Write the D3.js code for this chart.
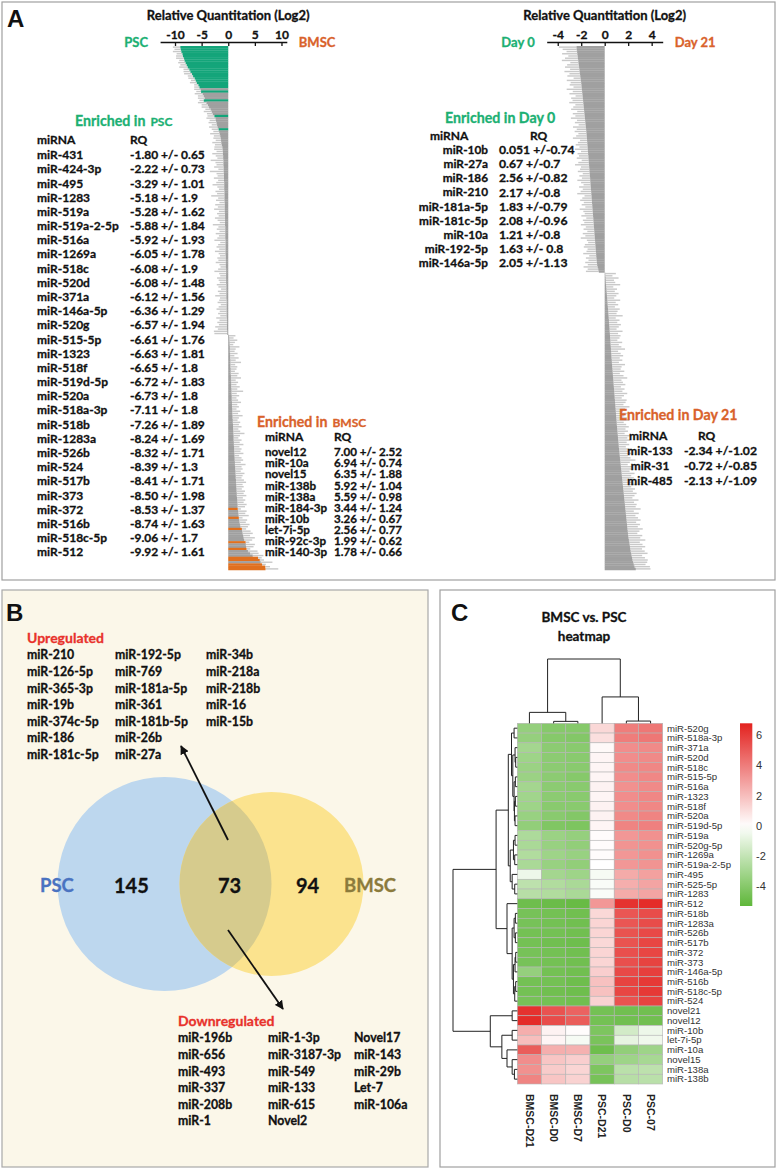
<!DOCTYPE html>
<html><head><meta charset="utf-8">
<script src="https://cdn.jsdelivr.net/npm/d3@7"></script>
<style>
body{margin:0;background:#fff;}
svg text{font-family:Lato,"Open Sans",sans-serif;}
</style></head><body>
<svg id="fig" width="777" height="1170" xmlns="http://www.w3.org/2000/svg"></svg>
<script>
// ================= DATA =================
// Panel A, left chart (PSC vs BMSC), sorted log2 RQ, bars top->bottom
const leftNegVals = [-9.0,-8.9,-8.8,-8.6,-8.5,-8.3,-8.2,-8.0,-7.8,-7.6,-7.3,-7.1,-6.8,-6.6,-6.3,-6.1,-5.9,-5.6,-5.4,
-5.2,-5.1,-4.8,-4.6,-4.4,-4.6,-4.1,-3.8,-3.6,-3.3,-3.1,-2.9,-2.6,-2.4,-2.3,-2.2,-2.1,-2.0,-1.8,-1.7,-1.6,-1.5,-1.4,-1.35,-1.3,-1.2,-1.1,
-1.05,-1.0,-1.0,-0.95,-0.95,-0.9,-0.9,-0.9,-0.85,-0.85,
-0.85,-0.8,-0.8,-0.8,-0.8,-0.75,-0.75,-0.75,-0.75,-0.7,
-0.7,-0.7,-0.7,-0.7,-0.65,-0.65,-0.65,-0.65,-0.65,-0.6,
-0.6,-0.6,-0.6,-0.6,-0.6,-0.55,-0.55,-0.55,-0.55,-0.55,
-0.55,-0.5,-0.5,-0.5,-0.5,-0.5,-0.5,-0.5,-0.45,-0.45,
-0.45,-0.45,-0.45,-0.45,-0.4,-0.4,-0.4,-0.4,-0.4,-0.4,
-0.4,-0.35,-0.35,-0.35,-0.35,-0.35,-0.35,-0.35,-0.3,-0.3,
-0.3,-0.3,-0.3,-0.3,-0.3,-0.3,-0.25,-0.25,-0.25,-0.25,
-0.25,-0.25,-0.2,-0.2];
const leftNegErr = [1.4,1.2,1.6,1.1,1.3,1.5,1.0,1.4,1.2,1.6,1.1,1.3,1.5,1.0,1.2,0.9,1.3,0.8,1.0,
1.2,0.9,1.5,1.1,1.3,0.8,1.6,1.2,1.4,1.0,1.5,1.1,1.3,1.7,1.2,1.5,1.0,1.6,1.3,1.1,1.8,1.2,1.4,1.0,1.7,1.3,1.5,
1.6,1.2,2.0,1.4,1.1,2.4,1.5,1.3,1.8,1.0,
2.6,1.4,1.2,1.9,1.1,1.5,2.2,1.3,1.0,1.7,
1.4,2.5,1.2,1.6,1.0,1.8,1.3,2.0,1.1,1.5,
1.2,1.9,1.4,1.0,2.3,1.3,1.6,1.1,1.8,1.2,
1.5,2.1,1.0,1.4,1.7,1.2,2.0,1.3,1.1,1.6,
1.4,1.9,1.2,1.0,1.5,2.2,1.3,1.1,1.7,1.4,
1.2,1.8,1.5,1.0,1.6,1.3,2.1,1.2,1.4,1.7,
1.1,1.5,1.9,1.3,1.6,1.2,2.0,1.4,1.8,1.5,
2.2,1.7,2.5,2.4];
const leftPosVals = [0.15,0.2,0.2,0.25,0.25,0.3,0.3,0.3,0.35,0.35,0.35,0.4,0.4,0.4,0.4,0.45,0.45,0.45,0.5,0.5,
0.5,0.55,0.55,0.55,0.6,0.6,0.6,0.65,0.65,0.65,0.7,0.7,0.7,0.75,0.75,0.75,0.8,0.8,0.85,0.85,
0.9,0.9,0.9,0.95,0.95,1.0,1.0,1.0,1.05,1.05,1.1,1.1,1.1,1.15,1.15,1.2,1.2,1.25,1.25,1.3,
1.3,1.35,1.35,1.4,1.4,1.45,1.45,1.5,1.5,1.55,1.55,1.6,1.6,1.65,1.7,1.7,1.75,1.75,1.78,1.85,
1.9,1.95,1.99,2.05,2.1,2.2,2.3,2.56,2.6,2.7,2.8,2.9,3.0,3.26,3.3,3.35,3.44,3.7,4.1,4.6,5.59,5.92,6.1,6.35,6.94,7.0];
const leftPosErr = [1.2,0.8,1.5,1.0,0.7,1.8,1.1,0.9,1.4,0.8,
1.6,1.0,2.0,0.9,1.3,1.1,0.8,1.5,1.2,1.9,
0.9,1.3,1.0,1.6,1.1,2.2,1.0,1.4,0.9,1.2,
1.7,1.0,1.3,0.8,1.5,1.1,1.9,1.2,0.9,1.4,
1.1,1.6,1.0,1.3,2.1,1.2,0.9,1.5,1.1,1.8,
1.0,1.4,1.2,1.7,0.9,1.3,1.6,1.1,2.0,1.2,
1.4,1.0,1.7,1.3,1.1,1.5,1.9,1.2,1.4,1.0,
1.6,1.3,1.8,1.1,1.5,1.2,1.7,1.4,0.6,1.6,
1.3,1.9,0.7,1.5,1.2,1.8,1.4,0.8,1.6,1.9,
1.3,2.1,1.5,0.7,1.7,1.4,0.7,1.8,1.6,2.0,
0.7,0.8,2.2,0.7,0.9,2.4];
const leftHiNeg = [0,1,2,3,4,5,6,7,8,9,10,11,12,13,14,15,16,17,18,20,24,31,37];
const leftHiPos = [78,82,87,93,96,100,101,103,104,105];
const leftTicks = [-10,-5,0,5,10];

// Panel A, right chart (Day 0 vs Day 21)
const rightNegVals = [-2.40,-2.38,-2.35,-2.33,-2.30,-2.28,-2.25,-2.23,-2.20,-2.18,
-2.15,-2.13,-2.10,-2.08,-2.05,-2.03,-2.00,-1.98,-1.96,-1.94,
-1.92,-1.90,-1.88,-1.86,-1.84,-1.82,-1.80,-1.78,-1.76,-1.74,
-1.72,-1.70,-1.68,-1.66,-1.64,-1.62,-1.60,-1.58,-1.56,-1.54,
-1.53,-1.51,-1.50,-1.48,-1.47,-1.45,-1.44,-1.42,-1.41,-1.39,
-1.38,-1.36,-1.35,-1.33,-1.32,-1.30,-1.29,-1.27,-1.26,-1.24,
-1.23,-1.21,-1.20,-1.18,-1.17,-1.15,-1.14,-1.12,-1.11,-1.09,
-1.08,-1.06,-1.05,-1.03,-1.02,-1.00,-0.99,-0.97,-0.96,-0.94,
-0.93,-0.91,-0.90,-0.88,-0.87,-0.85,-0.84,-0.82,-0.81,-0.79,
-0.78,-0.76,-0.75,-0.73,-0.72,-0.70,-0.68,-0.66,-0.64,-0.60,
-0.55,-0.50];
const rightNegErr = [1.5,1.2,0.9,1.3,0.8,1.1,1.4,0.7,1.0,1.2,
0.8,1.3,0.9,1.1,0.6,1.2,0.9,1.0,0.7,1.3,
0.8,1.1,0.6,1.0,0.9,1.2,0.7,0.9,1.1,0.6,
1.0,0.8,1.2,0.7,0.9,0.6,1.1,0.8,1.0,0.7,
0.9,1.2,0.6,0.8,1.0,0.7,1.1,0.6,0.9,0.8,
1.0,0.6,0.9,1.2,0.7,0.8,1.0,0.6,0.9,0.7,
1.1,0.8,0.6,1.0,0.7,0.9,1.2,0.6,0.8,1.0,
0.7,0.9,0.6,1.1,0.8,0.7,1.0,0.6,0.9,0.8,
1.1,0.7,0.9,0.6,1.0,0.8,1.2,0.7,0.6,0.9,
1.0,0.7,0.8,1.1,0.6,0.9,0.7,1.0,0.8,1.2,
0.9,1.1];
const rightPosVals = [0.05,0.06,0.08,0.09,0.10,0.12,0.13,0.15,0.16,0.18,
0.19,0.21,0.22,0.24,0.25,0.27,0.28,0.30,0.31,0.33,
0.34,0.36,0.37,0.38,0.40,0.41,0.42,0.44,0.45,0.46,
0.48,0.49,0.50,0.52,0.53,0.54,0.56,0.57,0.58,0.60,
0.61,0.63,0.64,0.66,0.67,0.69,0.70,0.72,0.73,0.75,
0.76,0.78,0.79,0.81,0.82,0.84,0.85,0.87,0.88,0.90,
0.91,0.93,0.94,0.96,0.97,0.99,1.00,1.02,1.03,1.05,
1.07,1.08,1.10,1.12,1.13,1.15,1.17,1.19,1.20,1.22,
1.24,1.26,1.28,1.30,1.32,1.34,1.36,1.38,1.40,1.42,
1.44,1.46,1.48,1.50,1.52,1.54,1.56,1.58,1.60,1.62,
1.64,1.66,1.68,1.70,1.72,1.74,1.76,1.78,1.80,1.82,
1.84,1.86,1.88,1.90,1.92,1.94,1.96,1.98,2.00,2.03,
2.06,2.09,2.12,2.15,2.18,2.21,2.25,2.29,2.33,2.37,
2.42,2.48,2.55,2.65];
const rightPosErr = [0.9,0.6,1.1,0.7,0.8,1.2,0.6,0.9,0.7,1.0,
0.8,0.6,1.1,0.7,0.9,0.6,1.0,0.8,0.7,1.2,
0.6,0.9,0.7,1.0,0.8,0.6,1.1,0.7,0.9,0.8,
0.6,1.0,0.7,0.9,1.2,0.6,0.8,1.0,0.7,0.9,
0.6,1.1,0.8,0.7,1.0,0.6,0.9,1.2,0.7,0.8,
1.0,0.6,0.9,0.7,1.1,0.8,0.6,1.0,0.9,0.7,
1.2,0.8,0.6,1.0,0.7,0.9,1.1,0.6,0.8,1.0,
0.7,0.9,0.6,1.2,0.8,1.0,0.7,0.9,0.6,1.1,
0.8,1.0,0.7,0.9,1.3,0.8,0.6,1.0,0.9,0.7,
1.1,0.8,1.0,0.6,0.9,1.2,0.7,1.0,0.8,1.1,
0.9,0.7,1.2,0.8,1.0,0.9,1.3,0.7,1.1,0.8,
1.0,1.2,0.8,1.1,0.9,1.3,1.0,0.8,1.2,1.0,
1.4,0.9,1.1,1.3,1.0,1.2,1.4,0.9,1.1,1.3,
1.2,1.0,1.3,1.25];
const rightTicks = [-4,-2,0,2,4];

// Panel A tables
const pscNames = ["miR-431","miR-424-3p","miR-495","miR-1283","miR-519a","miR-519a-2-5p","miR-516a","miR-1269a","miR-518c","miR-520d","miR-371a","miR-146a-5p","miR-520g","miR-515-5p","miR-1323","miR-518f","miR-519d-5p","miR-520a","miR-518a-3p","miR-518b","miR-1283a","miR-526b","miR-524","miR-517b","miR-373","miR-372","miR-516b","miR-518c-5p","miR-512"];
const pscRQ = ["-1.80 +/- 0.65","-2.22 +/- 0.73","-3.29 +/- 1.01","-5.18 +/- 1.9","-5.28 +/- 1.62","-5.88 +/- 1.84","-5.92 +/- 1.93","-6.05 +/- 1.78","-6.08 +/- 1.9","-6.08 +/- 1.48","-6.12 +/- 1.56","-6.36 +/- 1.29","-6.57 +/- 1.94","-6.61 +/- 1.76","-6.63 +/- 1.81","-6.65 +/- 1.8","-6.72 +/- 1.83","-6.73 +/- 1.8","-7.11 +/- 1.8","-7.26 +/- 1.89","-8.24 +/- 1.69","-8.32 +/- 1.71","-8.39 +/- 1.3","-8.41 +/- 1.71","-8.50 +/- 1.98","-8.53 +/- 1.37","-8.74 +/- 1.63","-9.06 +/- 1.7","-9.92 +/- 1.61"];
const bmscNames = ["novel12","miR-10a","novel15","miR-138b","miR-138a","miR-184-3p","miR-10b","let-7i-5p","miR-92c-3p","miR-140-3p"];
const bmscRQ = ["7.00 +/- 2.52","6.94 +/- 0.74","6.35 +/- 1.88","5.92 +/- 1.04","5.59 +/- 0.98","3.44 +/- 1.24","3.26 +/- 0.67","2.56 +/- 0.77","1.99 +/- 0.62","1.78 +/- 0.66"];
const day0Names = ["miR-10b","miR-27a","miR-186","miR-210","miR-181a-5p","miR-181c-5p","miR-10a","miR-192-5p","miR-146a-5p"];
const day0RQ = ["0.051 +/-0.74","0.67 +/-0.7","2.56 +/-0.82","2.17 +/-0.8","1.83 +/-0.79","2.08 +/-0.96","1.21 +/-0.8","1.63 +/- 0.8","2.05 +/-1.13"];
const day21Names = ["miR-133","miR-31","miR-485"];
const day21RQ = ["-2.34 +/-1.02","-0.72 +/-0.85","-2.13 +/-1.09"];

// Panel B
const vennLabels = ["PSC","145","73","94","BMSC"];
const upCols = [["miR-210","miR-126-5p","miR-365-3p","miR-19b","miR-374c-5p","miR-186","miR-181c-5p"],
["miR-192-5p","miR-769","miR-181a-5p","miR-361","miR-181b-5p","miR-26b","miR-27a"],
["miR-34b","miR-218a","miR-218b","miR-16","miR-15b"]];
const downCols = [["miR-196b","miR-656","miR-493","miR-337","miR-208b","miR-1"],
["miR-1-3p","miR-3187-3p","miR-549","miR-133","miR-615","Novel2"],
["Novel17","miR-143","miR-29b","Let-7","miR-106a"]];

// Panel C heatmap
const hmCols = ["BMSC-D21","BMSC-D0","BMSC-D7","PSC-D21","PSC-D0","PSC-07"];
const hmRows = ["miR-520g","miR-518a-3p","miR-371a","miR-520d","miR-518c","miR-515-5p","miR-516a","miR-1323","miR-518f","miR-520a","miR-519d-5p","miR-519a","miR-520g-5p","miR-1269a","miR-519a-2-5p","miR-495","miR-525-5p","miR-1283","miR-512","miR-518b","miR-1283a","miR-526b","miR-517b","miR-372","miR-373","miR-146a-5p","miR-516b","miR-518c-5p","miR-524","novel21","novel12","miR-10b","let-7i-5p","miR-10a","novel15","miR-138a","miR-138b"];
const hmValues = [
[-3.5,-4.0,-4.0,1.2,4.0,4.2],[-3.5,-4.0,-4.1,1.0,4.0,4.2],[-3.0,-3.8,-3.9,0.2,3.5,3.6],[-3.2,-3.8,-3.9,0.3,3.5,3.6],
[-3.3,-3.8,-3.9,0.3,3.6,3.7],[-3.3,-3.8,-4.0,0.3,3.5,3.7],[-3.0,-3.8,-3.9,0.4,3.4,3.6],[-3.1,-3.8,-3.9,0.3,3.5,3.7],
[-3.2,-3.9,-3.9,0.4,3.5,3.7],[-3.4,-3.9,-4.1,0.4,3.6,3.8],[-3.6,-4.2,-4.3,0.3,3.8,3.9],[-2.7,-3.3,-3.5,0.1,3.2,3.4],
[-2.8,-3.4,-3.6,0.1,3.3,3.4],[-2.6,-3.2,-3.4,0.1,3.2,3.4],[-2.8,-3.4,-3.6,0.0,3.2,3.3],[-0.6,-3.0,-3.2,-0.3,2.6,2.9],
[-2.2,-2.6,-2.8,-0.2,2.5,2.8],[-2.4,-2.6,-2.8,-0.2,2.6,2.8],[-4.8,-4.9,-5.0,3.2,6.3,6.5],[-4.5,-4.6,-4.7,1.2,5.2,5.5],
[-4.5,-4.6,-4.7,1.3,5.2,5.5],[-4.6,-4.6,-4.7,1.3,5.3,5.6],[-4.6,-4.7,-4.8,1.2,5.3,5.7],[-4.5,-4.6,-4.7,1.3,5.4,5.7],
[-4.5,-4.6,-4.7,1.3,5.4,5.8],[-3.5,-4.6,-4.7,1.5,5.6,5.9],[-4.6,-4.6,-4.8,1.9,5.8,6.1],[-4.6,-4.7,-4.8,1.9,5.7,6.1],
[-4.5,-4.6,-4.7,1.4,5.3,5.8],[6.3,5.3,4.8,-4.6,-4.7,-4.7],[6.5,5.5,5.0,-4.6,-4.7,-4.7],[2.5,0.4,0.1,-4.3,-1.5,-0.6],
[2.0,0.3,-0.3,-4.4,-0.8,-0.5],[5.0,2.5,2.4,-4.8,-3.6,-3.2],[3.5,1.8,1.5,-3.5,-3.2,-2.9],[3.4,1.6,1.3,-4.3,-2.3,-2.2],
[3.8,1.8,1.4,-4.5,-2.4,-2.3]];
// dendrograms: [height, left, right], leaves = row/col index
const rowTree = [10,
  [3.3,
    [1.4,
      [0.9,[0.5,0,1],[0.7,[0.35,2,[0.25,3,4]],[0.5,[0.3,5,6],[0.45,[0.3,7,8],[0.35,9,10]]]]],
      [1.1,[0.6,[0.35,11,12],[0.4,13,14]],[0.8,15,[0.4,16,17]]]],
    [1.6,18,[0.8,[0.5,[0.3,19,20],[0.3,21,22]],[0.6,[0.35,[0.25,23,24],25],[0.4,[0.25,26,27],28]]]]],
  [4.2,[0.8,29,30],[2.4,[0.8,31,32],[1.6,33,[0.8,34,[0.45,35,36]]]]]];
const colTree = [10,[1.7,0,[0.3,1,2]],[4.1,3,[0.35,4,5]]];
const legendTicks = [6,4,2,0,-2,-4];

// ================= DRAW =================
const svg = d3.select("#fig");
const GREEN = "#14a57a", ORANGE = "#e0701f", GTXT = "#1cb073", OTXT = "#d9622b";

// panel frames
svg.append("rect").attr("x",2).attr("y",2).attr("width",773).attr("height",578).attr("fill","#fff").attr("stroke","#a0a0a0").attr("stroke-width",1.2);
svg.append("rect").attr("x",2).attr("y",590).attr("width",426).attr("height",577).attr("fill","#fbf7e9").attr("stroke","#a8a8a8").attr("stroke-width",1.2);
svg.append("rect").attr("x",440).attr("y",590).attr("width",335).attr("height",577).attr("fill","#fff").attr("stroke","#a0a0a0").attr("stroke-width",1.2);

function panelLabel(t,x,y){
  svg.append("text").attr("x",x).attr("y",y).text(t)
    .style("font-family","'Liberation Sans',Arial,sans-serif").style("font-weight","bold").style("font-size","24px").attr("fill","#111");
}
panelLabel("A",7,27); panelLabel("B",6,621); panelLabel("C",451,621);

function heavy(sel,color){ return sel.style("stroke",color).style("stroke-width","0.3px"); }

function barChart(opt){
  const g = svg.append("g");
  const x = d3.scaleLinear().domain(opt.domain).range(opt.range);
  const vals = opt.neg.concat(opt.pos), errs = opt.negErr.concat(opt.posErr);
  const nN = opt.neg.length;
  const col = vals.map((v,i)=> i<nN ? (opt.hiNeg.includes(i)?GREEN:"#a0a0a0") : (opt.hiPos.includes(i-nN)?ORANGE:"#a0a0a0"));
  const y = d3.scaleBand().domain(d3.range(vals.length)).range([46,570]);
  const bw = y.bandwidth();
  // error whiskers (light)
  g.selectAll("rect.w").data(vals).join("rect").attr("class","w")
    .attr("x",(v,i)=> v<0 ? x(v-errs[i]) : x(v))
    .attr("width",(v,i)=> Math.abs(x(v+ (v<0?-errs[i]:errs[i])) - x(v)))
    .attr("y",(v,i)=> y(i)+bw*0.18).attr("height",bw*0.64)
    .attr("fill","#c9c9c9");
  // bars
  g.selectAll("rect.b").data(vals).join("rect").attr("class","b")
    .attr("x",v=> Math.min(x(0),x(v))).attr("width",v=>Math.abs(x(v)-x(0)))
    .attr("y",(v,i)=> y(i)).attr("height",bw+0.25)
    .attr("fill",(v,i)=>col[i]);
  // axis
  const ax = g.append("g").attr("transform","translate(0,42)")
    .call(d3.axisTop(x).tickValues(opt.ticks).tickSizeInner(-4).tickSizeOuter(0).tickPadding(3).tickFormat(d=>String(d)));
  ax.select(".domain").attr("stroke","#111").attr("stroke-width",1.6);
  ax.selectAll(".tick line").attr("stroke","#111").attr("stroke-width",1.3);
  heavy(ax.selectAll(".tick text").style("font-family","Lato,sans-serif").style("font-weight","bold").style("font-size","12px").attr("fill","#111"),"#111");
  heavy(g.append("text").attr("x",x(0)).attr("y",20).attr("text-anchor","middle").text("Relative Quantitation (Log2)")
    .style("font-weight","bold").style("font-size","13px").attr("fill","#111"),"#111");
  heavy(g.append("text").attr("x",opt.range[0]-12).attr("y",42).attr("dy","0.36em").attr("text-anchor","end").text(opt.leftLab)
    .style("font-weight","bold").style("font-size","13px").attr("fill",GTXT),GTXT);
  heavy(g.append("text").attr("x",opt.range[1]+12).attr("y",42).attr("dy","0.36em").text(opt.rightLab)
    .style("font-weight","bold").style("font-size","13px").attr("fill",OTXT),OTXT);
}
barChart({domain:[-12.8,11],range:[160.1,286.8],neg:leftNegVals,negErr:leftNegErr,pos:leftPosVals,posErr:leftPosErr,
  hiNeg:leftHiNeg,hiPos:leftHiPos,ticks:leftTicks,leftLab:"PSC",rightLab:"BMSC"});
barChart({domain:[-4.94,4.94],range:[546.7,662.7],neg:rightNegVals,negErr:rightNegErr,pos:rightPosVals,posErr:rightPosErr,
  hiNeg:[],hiPos:[],ticks:rightTicks,leftLab:"Day 0",rightLab:"Day 21"});

// tables
function txt(t,x,y,size,color,anchor){
  const c = color||"#111";
  return heavy(svg.append("text").attr("x",x).attr("y",y).attr("dy","0.35em").attr("text-anchor",anchor||"start")
    .text(t).style("font-weight","bold").style("font-size",size+"px").attr("fill",c),c);
}
function enrichedTitle(x,y,main,sub,color,subSize){
  const t = heavy(svg.append("text").attr("x",x).attr("y",y).attr("dy","0.35em").style("font-weight","bold").attr("fill",color),color);
  t.append("tspan").text(main).style("font-size","14.2px");
  t.append("tspan").text(sub).attr("dx",5).style("font-size",subSize+"px");
}
enrichedTitle(75,120,"Enriched in","PSC",GTXT,12);
txt("miRNA",37,140,12); txt("RQ",130,140,12);
pscNames.forEach((n,i)=>{ txt(n,37,155+i*14.18,12); txt(pscRQ[i],130,155+i*14.18,12); });

enrichedTitle(257,421,"Enriched in","BMSC",OTXT,12);
txt("miRNA",265,437,12); txt("RQ",334,437,12);
bmscNames.forEach((n,i)=>{ txt(n,265,452+i*11.15,11.6); txt(bmscRQ[i],334,452+i*11.15,11.6); });

enrichedTitle(445,117,"Enriched in Day 0","",GTXT,11);
txt("miRNA",430,136,12); txt("RQ",530,136,12);
day0Names.forEach((n,i)=>{ txt(n,488,150+i*14.1,11.8,"#111","end"); txt(day0RQ[i],499,150+i*14.1,12.2); });

enrichedTitle(619,414,"Enriched in Day 21","",OTXT,11);
txt("miRNA",629,436,12); txt("RQ",698,436,12);
day21Names.forEach((n,i)=>{ txt(n,650,451+i*15,11.8,"#111","middle"); txt(day21RQ[i],684,451+i*15,12.2); });

// ================= Panel B =================
const defs = svg.append("defs");
defs.append("marker").attr("id","ah").attr("viewBox","0 0 10 10").attr("refX",9).attr("refY",5)
  .attr("markerWidth",5).attr("markerHeight",5).attr("orient","auto")
  .append("path").attr("d","M0,0L10,5L0,10z").attr("fill","#111");
defs.append("clipPath").attr("id","blueClip").append("circle").attr("cx",164.5).attr("cy",884).attr("r",107);

const vennCircles = [{cx:164.5,cy:884,r:107,fill:"#bdd7ee"},{cx:271.5,cy:884,r:92,fill:"#fbe38e"}];
svg.selectAll("circle.venn").data(vennCircles).join("circle").attr("class","venn")
  .attr("cx",d=>d.cx).attr("cy",d=>d.cy).attr("r",d=>d.r).attr("fill",d=>d.fill);
svg.append("circle").attr("cx",271.5).attr("cy",884).attr("r",92).attr("fill","#d6cb8d").attr("clip-path","url(#blueClip)");

const vennPos = [{x:40,c:"#4a73c1",s:18.5},{x:114,c:"#111",s:20},{x:218,c:"#111",s:20},{x:296,c:"#111",s:20},{x:344,c:"#8b7b3c",s:18.5}];
vennLabels.forEach((l,i)=>{ heavy(svg.append("text").attr("x",vennPos[i].x).attr("y",886).attr("dy","0.35em").text(l)
  .style("font-weight","bold").style("font-size",vennPos[i].s+"px").attr("fill",vennPos[i].c),vennPos[i].c); });

svg.append("line").attr("x1",228).attr("y1",840).attr("x2",181).attr("y2",746).attr("stroke","#111").attr("stroke-width",1.8).attr("marker-end","url(#ah)");
svg.append("line").attr("x1",228).attr("y1",930).attr("x2",283).attr("y2",1009).attr("stroke","#111").attr("stroke-width",1.8).attr("marker-end","url(#ah)");

txt("Upregulated",27,638,14,"#e8322c");
const upX = [27,115,206];
upCols.forEach((c,j)=>c.forEach((n,i)=> txt(n,upX[j],655+i*16.6,12.3)));
txt("Downregulated",178,1021,14,"#e8322c");
const dnX = [178,268,354];
downCols.forEach((c,j)=>c.forEach((n,i)=> txt(n,dnX[j],1038+i*16.6,12.3)));

// ================= Panel C =================
const hx = d3.scaleBand().domain(d3.range(hmCols.length)).range([517.3,662.7]);
const hy = d3.scaleBand().domain(d3.range(hmRows.length)).range([723.3,1084]);
const heat = d3.scaleLinear().domain([-5.3,0,6.8]).range(["#5fb73a","#ffffff","#e3221f"]);
const cells = [];
hmValues.forEach((r,i)=>r.forEach((v,j)=>cells.push({i,j,v})));
svg.append("g").selectAll("rect").data(cells).join("rect")
  .attr("x",d=>hx(d.j)).attr("y",d=>hy(d.i)).attr("width",hx.bandwidth()).attr("height",hy.bandwidth())
  .attr("fill",d=>heat(d.v)).attr("stroke","#b5b5b5").attr("stroke-width",0.6);

const arial = "'Liberation Sans',Arial,sans-serif";
svg.append("g").selectAll("text").data(hmRows).join("text")
  .attr("x",667).attr("y",(d,i)=>hy(i)+hy.bandwidth()/2).attr("dy","0.35em").text(d=>d)
  .style("font-family",arial).style("font-size","9.6px").attr("fill","#333");
svg.append("g").selectAll("text").data(hmCols).join("text")
  .attr("transform",(d,i)=>`translate(${hx(i)+hx.bandwidth()/2},1094) rotate(90)`).attr("dy","0.35em").text(d=>d)
  .style("font-family",arial).style("font-weight","bold").style("font-size","10.5px").attr("fill","#222");

// dendrograms
const dg = svg.append("g").attr("stroke","#222").attr("stroke-width",1).attr("fill","none");
const rdx = d3.scaleLinear().domain([0,10]).range([517.3,453]);
function drawRow(node){
  if (typeof node === "number") return {p: hy(node)+hy.bandwidth()/2, h:0};
  const l = drawRow(node[1]), r = drawRow(node[2]), h = node[0];
  dg.append("path").attr("d",`M${rdx(l.h)},${l.p}H${rdx(h)}V${r.p}H${rdx(r.h)}`);
  return {p:(l.p+r.p)/2, h};
}
drawRow(rowTree);
const cdy = d3.scaleLinear().domain([0,10]).range([723.3,659]);
function drawCol(node){
  if (typeof node === "number") return {p: hx(node)+hx.bandwidth()/2, h:0};
  const l = drawCol(node[1]), r = drawCol(node[2]), h = node[0];
  dg.append("path").attr("d",`M${l.p},${cdy(l.h)}V${cdy(h)}H${r.p}V${cdy(r.h)}`);
  return {p:(l.p+r.p)/2, h};
}
drawCol(colTree);

// title
heavy(svg.append("text").attr("x",584).attr("y",617).attr("dy","0.35em").attr("text-anchor","middle").text("BMSC vs. PSC")
  .style("font-weight","bold").style("font-size","13.5px").attr("fill","#111"),"#111");
heavy(svg.append("text").attr("x",584).attr("y",636).attr("dy","0.35em").attr("text-anchor","middle").text("heatmap")
  .style("font-weight","bold").style("font-size","13.5px").attr("fill","#111"),"#111");

// legend
const ly = d3.scaleLinear().domain([6.8,-5.3]).range([723.3,906]);
const grad = defs.append("linearGradient").attr("id","hmgrad").attr("x1",0).attr("y1",0).attr("x2",0).attr("y2",1);
d3.range(0,1.0001,0.05).forEach(t=>{ grad.append("stop").attr("offset",t).attr("stop-color",heat(ly.invert(723.3+t*(906-723.3)))); });
svg.append("rect").attr("x",740).attr("y",ly(6.8)).attr("width",12.3).attr("height",ly(-5.3)-ly(6.8)).attr("fill","url(#hmgrad)");
svg.append("g").selectAll("text").data(legendTicks).join("text")
  .attr("x",756).attr("y",d=>ly(d)).attr("dy","0.35em").text(d=>String(d))
  .style("font-family",arial).style("font-size","11px").attr("fill","#333");
</script>
</body></html>
